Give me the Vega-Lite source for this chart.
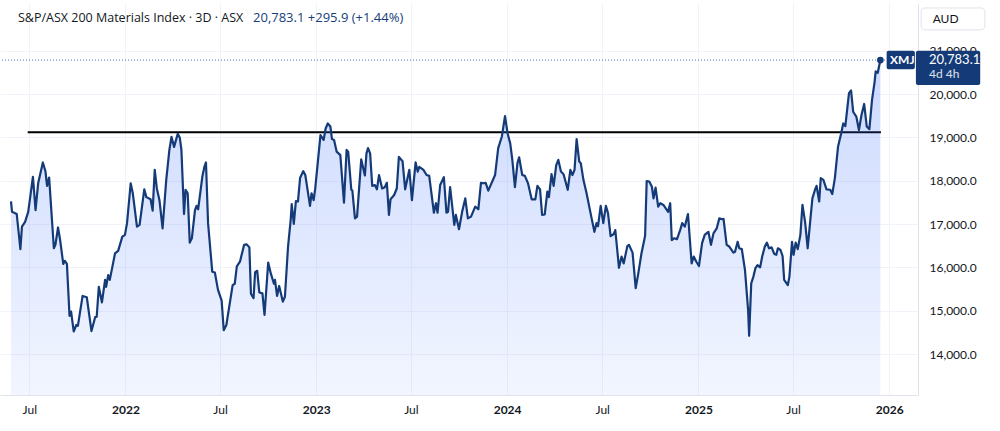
{
  "$schema": "https://vega.github.io/schema/vega-lite/v6.json",
  "width": 918,
  "height": 392,
  "autosize": "none",
  "padding": {"left": 0, "top": 3, "right": 82, "bottom": 36},
  "background": "white",
  "config": {"view": {"stroke": null}, "font": "Lato"},
  "title": {"text": "S&P/ASX 200 Materials Index · 3D · ASX", "anchor": "start", "frame": "group", "orient": "top", "offset": -21, "dx": 18, "fontSize": 12.5, "fontWeight": "normal", "color": "#131722", "font": "Open Sans"},
  "datasets": {
    "series": [
      {"date":"2021-05-27","price":17520},{"date":"2021-05-29","price":17280},{"date":"2021-06-07","price":17230},{"date":"2021-06-14","price":16420},{"date":"2021-06-17","price":16940},{"date":"2021-06-23","price":17050},{"date":"2021-06-29","price":17280},{"date":"2021-07-08","price":18090},{"date":"2021-07-13","price":17320},{"date":"2021-07-18","price":17940},{"date":"2021-07-27","price":18420},{"date":"2021-08-01","price":18210},{"date":"2021-08-04","price":17880},{"date":"2021-08-08","price":18070},{"date":"2021-08-17","price":16440},{"date":"2021-08-20","price":16520},{"date":"2021-08-25","price":16920},{"date":"2021-08-29","price":16630},{"date":"2021-09-04","price":16080},{"date":"2021-09-07","price":16150},{"date":"2021-09-11","price":16080},{"date":"2021-09-16","price":14880},{"date":"2021-09-19","price":14980},{"date":"2021-09-24","price":14520},{"date":"2021-09-29","price":14670},{"date":"2021-10-02","price":14650},{"date":"2021-10-11","price":15340},{"date":"2021-10-19","price":15310},{"date":"2021-10-28","price":14530},{"date":"2021-11-04","price":14850},{"date":"2021-11-07","price":14860},{"date":"2021-11-11","price":15550},{"date":"2021-11-17","price":15190},{"date":"2021-11-23","price":15710},{"date":"2021-11-25","price":15550},{"date":"2021-11-29","price":15820},{"date":"2021-12-02","price":15710},{"date":"2021-12-12","price":16320},{"date":"2021-12-18","price":16380},{"date":"2021-12-26","price":16710},{"date":"2021-12-31","price":16750},
      {"date":"2022-01-04","price":17020},{"date":"2022-01-11","price":17940},{"date":"2022-01-15","price":17710},{"date":"2022-01-23","price":16940},{"date":"2022-01-28","price":16980},{"date":"2022-02-06","price":17800},{"date":"2022-02-10","price":17620},{"date":"2022-02-18","price":17570},{"date":"2022-02-22","price":17310},{"date":"2022-02-26","price":18250},{"date":"2022-03-02","price":17820},{"date":"2022-03-07","price":17550},{"date":"2022-03-13","price":16900},{"date":"2022-03-20","price":18020},{"date":"2022-03-26","price":18710},{"date":"2022-03-30","price":19010},{"date":"2022-04-04","price":18780},{"date":"2022-04-11","price":19080},{"date":"2022-04-15","price":18990},{"date":"2022-04-18","price":18710},{"date":"2022-04-23","price":17230},{"date":"2022-04-26","price":17790},{"date":"2022-04-30","price":17710},{"date":"2022-05-04","price":16570},{"date":"2022-05-08","price":16670},{"date":"2022-05-14","price":17320},{"date":"2022-05-17","price":17420},{"date":"2022-05-20","price":17340},{"date":"2022-05-28","price":18090},{"date":"2022-06-01","price":18320},{"date":"2022-06-04","price":18420},{"date":"2022-06-08","price":17020},{"date":"2022-06-16","price":15900},{"date":"2022-06-21","price":15880},{"date":"2022-06-27","price":15480},{"date":"2022-07-04","price":15230},{"date":"2022-07-08","price":14550},{"date":"2022-07-13","price":14670},{"date":"2022-07-25","price":15590},{"date":"2022-07-29","price":15620},{"date":"2022-08-02","price":16020},{"date":"2022-08-08","price":16130},{"date":"2022-08-16","price":16520},{"date":"2022-08-21","price":16530},{"date":"2022-08-26","price":16460},{"date":"2022-08-29","price":15390},{"date":"2022-09-03","price":15290},{"date":"2022-09-06","price":15890},{"date":"2022-09-10","price":15920},{"date":"2022-09-14","price":15420},{"date":"2022-09-20","price":15400},{"date":"2022-09-24","price":14900},{"date":"2022-10-01","price":16110},{"date":"2022-10-06","price":15860},{"date":"2022-10-12","price":15620},{"date":"2022-10-14","price":15710},{"date":"2022-10-18","price":15340},{"date":"2022-10-22","price":15570},{"date":"2022-10-29","price":15210},{"date":"2022-11-02","price":15320},{"date":"2022-11-08","price":16480},{"date":"2022-11-13","price":17090},{"date":"2022-11-15","price":17460},{"date":"2022-11-19","price":17000},{"date":"2022-11-23","price":17530},{"date":"2022-11-27","price":17520},{"date":"2022-12-01","price":18060},{"date":"2022-12-07","price":18220},{"date":"2022-12-11","price":18130},{"date":"2022-12-20","price":17420},{"date":"2022-12-23","price":17710},{"date":"2022-12-27","price":17550},{"date":"2022-12-30","price":17820},
      {"date":"2023-01-09","price":19050},{"date":"2023-01-15","price":18940},{"date":"2023-01-19","price":19210},{"date":"2023-01-23","price":19320},{"date":"2023-01-28","price":19250},{"date":"2023-01-31","price":18960},{"date":"2023-02-04","price":18940},{"date":"2023-02-09","price":18670},{"date":"2023-02-16","price":18590},{"date":"2023-02-23","price":17490},{"date":"2023-02-28","price":18710},{"date":"2023-03-03","price":18670},{"date":"2023-03-09","price":17790},{"date":"2023-03-11","price":17770},{"date":"2023-03-16","price":17130},{"date":"2023-03-20","price":17170},{"date":"2023-03-28","price":18490},{"date":"2023-04-04","price":18120},{"date":"2023-04-07","price":18630},{"date":"2023-04-10","price":18750},{"date":"2023-04-14","price":18630},{"date":"2023-04-18","price":17880},{"date":"2023-04-23","price":17900},{"date":"2023-04-27","price":17800},{"date":"2023-05-01","price":18130},{"date":"2023-05-07","price":17820},{"date":"2023-05-12","price":17850},{"date":"2023-05-16","price":17950},{"date":"2023-05-20","price":17210},{"date":"2023-05-23","price":17570},{"date":"2023-05-30","price":17670},{"date":"2023-06-04","price":17820},{"date":"2023-06-08","price":18550},{"date":"2023-06-15","price":18450},{"date":"2023-06-20","price":17800},{"date":"2023-06-28","price":18250},{"date":"2023-07-03","price":17550},{"date":"2023-07-10","price":18420},{"date":"2023-07-14","price":18210},{"date":"2023-07-17","price":18320},{"date":"2023-07-25","price":18250},{"date":"2023-07-31","price":18130},{"date":"2023-08-05","price":18110},{"date":"2023-08-14","price":17260},{"date":"2023-08-18","price":17480},{"date":"2023-08-21","price":17260},{"date":"2023-08-26","price":17900},{"date":"2023-09-02","price":18080},{"date":"2023-09-07","price":17260},{"date":"2023-09-10","price":17280},{"date":"2023-09-14","price":17850},{"date":"2023-09-22","price":16980},{"date":"2023-09-25","price":17210},{"date":"2023-10-01","price":16880},{"date":"2023-10-07","price":17280},{"date":"2023-10-13","price":17590},{"date":"2023-10-18","price":17130},{"date":"2023-10-24","price":17170},{"date":"2023-11-01","price":17400},{"date":"2023-11-07","price":17340},{"date":"2023-11-12","price":17950},{"date":"2023-11-17","price":17940},{"date":"2023-11-21","price":17950},{"date":"2023-11-26","price":17770},{"date":"2023-12-09","price":18130},{"date":"2023-12-15","price":18750},{"date":"2023-12-22","price":19020},{"date":"2023-12-28","price":19490},
      {"date":"2024-01-02","price":19090},{"date":"2024-01-07","price":18860},{"date":"2024-01-11","price":18480},{"date":"2024-01-16","price":17850},{"date":"2024-01-21","price":18420},{"date":"2024-01-24","price":18540},{"date":"2024-01-30","price":18130},{"date":"2024-02-04","price":18110},{"date":"2024-02-10","price":17940},{"date":"2024-02-17","price":17570},{"date":"2024-02-24","price":17570},{"date":"2024-02-28","price":17880},{"date":"2024-03-04","price":17800},{"date":"2024-03-08","price":17210},{"date":"2024-03-13","price":17220},{"date":"2024-03-18","price":17750},{"date":"2024-03-21","price":17620},{"date":"2024-03-26","price":18150},{"date":"2024-03-30","price":17880},{"date":"2024-04-04","price":18360},{"date":"2024-04-08","price":18480},{"date":"2024-04-13","price":18210},{"date":"2024-04-18","price":18150},{"date":"2024-04-26","price":17790},{"date":"2024-05-01","price":18250},{"date":"2024-05-05","price":18130},{"date":"2024-05-09","price":18250},{"date":"2024-05-13","price":18960},{"date":"2024-05-18","price":18440},{"date":"2024-05-21","price":18400},{"date":"2024-05-26","price":18020},{"date":"2024-06-01","price":17710},{"date":"2024-06-10","price":17170},{"date":"2024-06-16","price":16820},{"date":"2024-06-20","price":17020},{"date":"2024-06-23","price":16950},{"date":"2024-06-28","price":17420},{"date":"2024-07-03","price":17020},{"date":"2024-07-08","price":17420},{"date":"2024-07-12","price":17250},{"date":"2024-07-17","price":16720},{"date":"2024-07-23","price":16770},{"date":"2024-07-26","price":16860},{"date":"2024-08-02","price":15990},{"date":"2024-08-07","price":16250},{"date":"2024-08-11","price":16090},{"date":"2024-08-18","price":16490},{"date":"2024-08-21","price":16520},{"date":"2024-08-28","price":16340},{"date":"2024-09-03","price":15520},{"date":"2024-09-08","price":15860},{"date":"2024-09-14","price":16320},{"date":"2024-09-21","price":16730},{"date":"2024-09-24","price":17990},{"date":"2024-09-29","price":17980},{"date":"2024-10-04","price":17860},{"date":"2024-10-07","price":17590},{"date":"2024-10-11","price":17840},{"date":"2024-10-16","price":17400},{"date":"2024-10-20","price":17480},{"date":"2024-10-26","price":17440},{"date":"2024-11-04","price":17280},{"date":"2024-11-08","price":17480},{"date":"2024-11-11","price":16630},{"date":"2024-11-15","price":16670},{"date":"2024-11-21","price":16650},{"date":"2024-11-27","price":16860},{"date":"2024-12-01","price":17020},{"date":"2024-12-06","price":16940},{"date":"2024-12-12","price":17230},{"date":"2024-12-19","price":16090},{"date":"2024-12-23","price":16250},{"date":"2024-12-28","price":16130},
      {"date":"2025-01-02","price":16030},{"date":"2025-01-08","price":16560},{"date":"2025-01-13","price":16750},{"date":"2025-01-20","price":16820},{"date":"2025-01-25","price":16520},{"date":"2025-01-30","price":16790},{"date":"2025-02-05","price":16900},{"date":"2025-02-10","price":17130},{"date":"2025-02-15","price":17110},{"date":"2025-02-18","price":17120},{"date":"2025-02-24","price":16520},{"date":"2025-03-01","price":16480},{"date":"2025-03-09","price":16340},{"date":"2025-03-12","price":16360},{"date":"2025-03-17","price":16590},{"date":"2025-03-20","price":16440},{"date":"2025-03-25","price":16420},{"date":"2025-03-31","price":15940},{"date":"2025-04-06","price":15020},{"date":"2025-04-08","price":14420},{"date":"2025-04-12","price":15630},{"date":"2025-04-16","price":15780},{"date":"2025-04-20","price":15980},{"date":"2025-04-24","price":16050},{"date":"2025-04-29","price":16000},{"date":"2025-05-03","price":16250},{"date":"2025-05-08","price":16480},{"date":"2025-05-12","price":16570},{"date":"2025-05-16","price":16440},{"date":"2025-05-21","price":16460},{"date":"2025-05-26","price":16310},{"date":"2025-05-30","price":16290},{"date":"2025-06-02","price":16440},{"date":"2025-06-07","price":16400},{"date":"2025-06-11","price":16260},{"date":"2025-06-14","price":15710},{"date":"2025-06-21","price":15590},{"date":"2025-06-24","price":15780},{"date":"2025-06-29","price":16590},{"date":"2025-07-02","price":16290},{"date":"2025-07-06","price":16570},{"date":"2025-07-10","price":16420},{"date":"2025-07-15","price":16750},{"date":"2025-07-19","price":17440},{"date":"2025-07-24","price":17050},{"date":"2025-07-29","price":16440},{"date":"2025-08-03","price":17090},{"date":"2025-08-07","price":17590},{"date":"2025-08-12","price":17790},{"date":"2025-08-15","price":17880},{"date":"2025-08-20","price":17520},{"date":"2025-08-23","price":18060},{"date":"2025-08-28","price":18020},{"date":"2025-09-03","price":17800},{"date":"2025-09-10","price":17790},{"date":"2025-09-14","price":17690},{"date":"2025-09-19","price":18060},{"date":"2025-09-25","price":18780},{"date":"2025-10-01","price":19090},{"date":"2025-10-05","price":19320},{"date":"2025-10-09","price":19260},{"date":"2025-10-16","price":20020},{"date":"2025-10-20","price":20080},{"date":"2025-10-24","price":19590},{"date":"2025-10-30","price":19480},{"date":"2025-11-04","price":19170},{"date":"2025-11-09","price":19520},{"date":"2025-11-14","price":19770},{"date":"2025-11-19","price":19250},{"date":"2025-11-24","price":19190},{"date":"2025-11-29","price":19860},{"date":"2025-12-04","price":20280},{"date":"2025-12-06","price":20520},{"date":"2025-12-10","price":20490},{"date":"2025-12-15","price":20783.1}
    ],
    "level": [{"start":"2021-06-28","end":"2025-12-16","price":19120}],
    "last": [{"date":"2025-12-15","price":20783.1}]
  },
  "layer": [
    {
      "data": {"name": "level"},
      "mark": {"type": "rule", "color": "#000000", "strokeWidth": 2},
      "encoding": {
        "x": {"field": "start", "type": "temporal", "scale": {"domain": [{"year":2021,"month":5,"date":6},{"year":2026,"month":2,"date":25}], "nice": false}, "axis": {"title": null, "values": [{"year":2021,"month":7,"date":1},{"year":2022,"month":1,"date":1},{"year":2022,"month":7,"date":1},{"year":2023,"month":1,"date":1},{"year":2023,"month":7,"date":1},{"year":2024,"month":1,"date":1},{"year":2024,"month":7,"date":1},{"year":2025,"month":1,"date":1},{"year":2025,"month":7,"date":1},{"year":2026,"month":1,"date":1}], "labelExpr": "month(datum.value) == 0 ? timeFormat(datum.value, '%Y') : timeFormat(datum.value, '%b')", "labelFontWeight": {"condition": {"test": "month(datum.value) == 0", "value": "bold"}, "value": "normal"}, "labelColor": "#131722", "labelFontSize": 12, "labelFont": "Lato", "labelPadding": 9, "ticks": false, "domain": true, "domainColor": "#e0e3eb", "grid": true, "gridColor": "#f0f3fa", "labelFlush": false}},
        "x2": {"field": "end"},
        "y": {"field": "price", "type": "quantitative", "scale": {"domain": [13054, 22100], "nice": false, "zero": false}, "axis": {"orient": "right", "title": null, "values": [14000,15000,16000,17000,18000,19000,20000,21000], "format": ",.1f", "labelAlign": "left", "labelPadding": 11, "labelColor": "#131722", "labelFontSize": 12, "labelFont": "Lato", "ticks": false, "domain": true, "domainColor": "#e0e3eb", "grid": true, "gridColor": "#f0f3fa"}}
      }
    },
    {
      "data": {"name": "series"},
      "mark": {"type": "area", "line": false, "color": {"gradient": "linear", "x1": 0, "y1": 0, "x2": 0, "y2": 1, "stops": [{"offset": 0, "color": "rgba(41,98,255,0.24)"}, {"offset": 1, "color": "rgba(41,98,255,0.06)"}]}},
      "encoding": {
        "x": {"field": "date", "type": "temporal"},
        "y": {"field": "price", "type": "quantitative"},
        "y2": {"datum": 13054}
      }
    },
    {
      "data": {"name": "series"},
      "mark": {"type": "line", "color": "#143b78", "strokeWidth": 2.2, "strokeJoin": "round"},
      "encoding": {
        "x": {"field": "date", "type": "temporal"},
        "y": {"field": "price", "type": "quantitative"}
      }
    },
    {
      "data": {"name": "last"},
      "mark": {"type": "rule", "color": "#4a6fb5", "strokeWidth": 1, "strokeDash": [1, 2]},
      "encoding": {"y": {"field": "price", "type": "quantitative"}}
    },
    {
      "data": {"name": "last"},
      "mark": {"type": "point", "filled": true, "color": "#143b78", "size": 45, "opacity": 1},
      "encoding": {
        "x": {"field": "date", "type": "temporal"},
        "y": {"field": "price", "type": "quantitative"}
      }
    },
    {
      "data": {"name": "last"},
      "mark": {"type": "rect", "color": "#143b78", "cornerRadius": 2},
      "encoding": {
        "x": {"datum": {"year":2025,"month":12,"date":27}},
        "x2": {"datum": {"year":2026,"month":2,"date":19}},
        "y": {"datum": 20570},
        "y2": {"datum": 21000}
      }
    },
    {
      "data": {"name": "last"},
      "mark": {"type": "rect", "color": "#143b78", "cornerRadius": 2},
      "encoding": {
        "x": {"datum": {"year":2026,"month":2,"date":21}},
        "x2": {"datum": {"year":2026,"month":6,"date":24}},
        "y": {"datum": 20210},
        "y2": {"datum": 21000}
      }
    },
    {
      "data": {"name": "last"},
      "mark": {"type": "text", "color": "white", "fontSize": 12, "fontWeight": "bold", "align": "center", "baseline": "middle", "font": "Lato"},
      "encoding": {
        "x": {"datum": {"year":2026,"month":1,"date":26}},
        "y": {"field": "price", "type": "quantitative"},
        "text": {"value": "XMJ"}
      }
    },
    {
      "data": {"name": "last"},
      "mark": {"type": "text", "color": "white", "fontSize": 13, "align": "left", "baseline": "middle", "font": "Lato"},
      "encoding": {
        "x": {"datum": {"year":2026,"month":3,"date":18}},
        "y": {"field": "price", "type": "quantitative"},
        "text": {"field": "price", "type": "quantitative", "format": ",.1f"}
      }
    },
    {
      "data": {"name": "last"},
      "mark": {"type": "text", "color": "white", "fontSize": 12, "align": "left", "baseline": "middle", "font": "Lato", "opacity": 0.85},
      "encoding": {
        "x": {"datum": {"year":2026,"month":3,"date":18}},
        "y": {"datum": 20455},
        "text": {"value": "4d 4h"}
      }
    },
    {
      "data": {"name": "last"},
      "mark": {"type": "rect", "fill": "white", "stroke": "#e0e3eb", "strokeWidth": 1, "cornerRadius": 4},
      "encoding": {
        "x": {"datum": {"year":2026,"month":3,"date":3}},
        "x2": {"datum": {"year":2026,"month":7,"date":3}},
        "y": {"datum": 21480},
        "y2": {"datum": 21985}
      }
    },
    {
      "data": {"name": "last"},
      "mark": {"type": "text", "color": "#131722", "fontSize": 12, "align": "left", "baseline": "middle", "font": "Lato"},
      "encoding": {
        "x": {"datum": {"year":2026,"month":3,"date":25}},
        "y": {"datum": 21730},
        "text": {"value": "AUD"}
      }
    },
    {
      "data": {"name": "last"},
      "mark": {"type": "text", "color": "#163d79", "fontSize": 13, "align": "left", "baseline": "middle", "font": "Open Sans"},
      "encoding": {
        "x": {"datum": {"year":2022,"month":9,"date":2}},
        "y": {"datum": 21754},
        "text": {"value": "20,783.1  +295.9 (+1.44%)"}
      }
    }
  ]
}
